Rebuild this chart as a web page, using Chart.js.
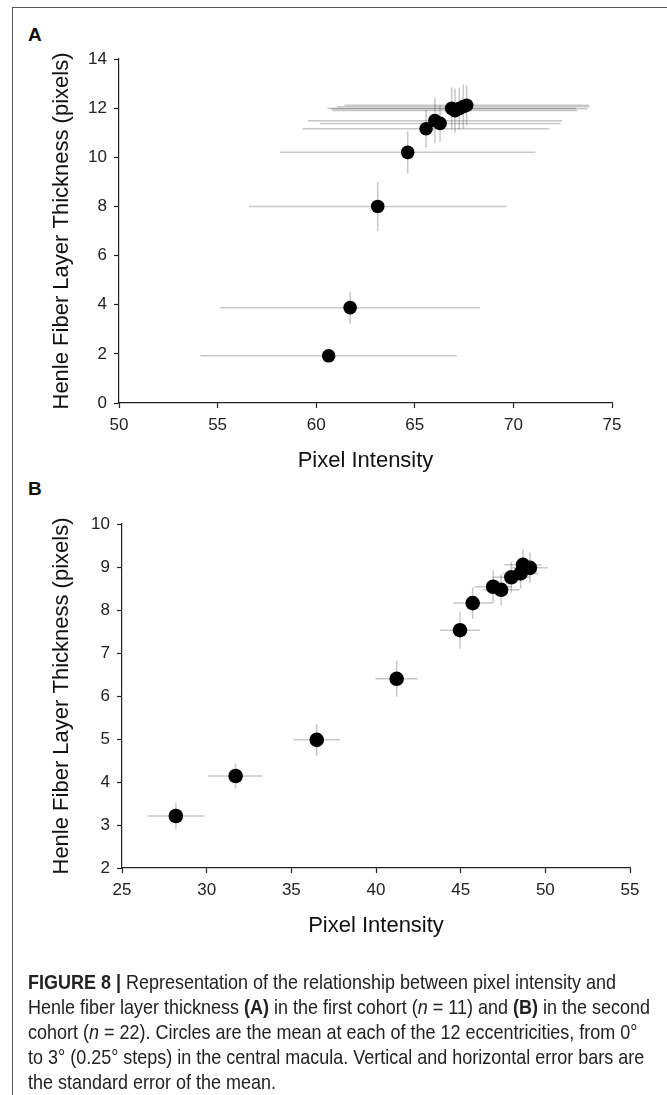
<!DOCTYPE html>
<html>
<head>
<meta charset="utf-8">
<title>Figure 8</title>
<script src="https://cdn.jsdelivr.net/npm/chart.js@4.4.0/dist/chart.umd.min.js"></script>
<style>
  html, body { margin: 0; padding: 0; background: #fff; }
  #page { position: relative; width: 667px; height: 1095px; overflow: hidden;
          font-family: "Liberation Sans", Arial, sans-serif; color: #222; }
  .frame-top { position: absolute; left: 12px; top: 7px; right: 0; border-top: 1.5px solid #555; }
  .frame-left { position: absolute; left: 12px; top: 7px; bottom: 0; border-left: 1.5px solid #555; }
  .panel { position: absolute; left: 28px; font-weight: bold; font-size: 19px; line-height: 22px; color: #111; }
  canvas { position: absolute; left: 0; }
  #caption { position: absolute; left: 28px; top: 969px; font-size: 21px; line-height: 25px;
             font-family: "Liberation Sans Narrow", "Liberation Sans", Arial, sans-serif; color: #222; }
  #caption div { white-space: nowrap; transform-origin: 0 50%; }
</style>
</head>
<body>
<div id="page">
  <div class="frame-top"></div>
  <div class="frame-left"></div>
  <div class="panel" style="top:24px">A</div>
  <div class="panel" style="top:478px">B</div>
  <canvas id="chartA" width="667" height="495" style="top:0"></canvas>
  <canvas id="chartB" width="667" height="495" style="top:495px"></canvas>
  <div id="caption">
    <div><b>FIGURE 8 |</b> Representation of the relationship between pixel intensity and</div>
    <div>Henle fiber layer thickness <b>(A)</b> in the first cohort (<i>n</i> = 11) and <b>(B)</b> in the second</div>
    <div>cohort (<i>n</i> = 22). Circles are the mean at each of the 12 eccentricities, from 0°</div>
    <div>to 3° (0.25° steps) in the central macula. Vertical and horizontal error bars are</div>
    <div>the standard error of the mean.</div>
  </div>
</div>
<script>
// First cohort (n = 11): mean pixel intensity / HFL thickness per eccentricity, with SEM
const intensityA = [60.63, 61.72, 63.12, 64.64, 65.57, 66.02, 66.28, 66.87, 67.04, 67.25, 67.46, 67.63];
const thicknessA = [1.92, 3.88, 8.0, 10.2, 11.16, 11.49, 11.38, 11.99, 11.9, 11.98, 12.06, 12.12];
const intensitySemA = [6.5, 6.58, 6.53, 6.47, 6.25, 6.45, 6.1, 6.3, 6.2, 6.5, 6.4, 6.2];
const thicknessSemA = [0.2, 0.66, 1.0, 0.86, 0.75, 0.92, 0.75, 0.85, 0.9, 0.85, 0.9, 0.8];

// Second cohort (n = 22)
const intensityB = [28.18, 31.71, 36.5, 41.22, 44.96, 45.71, 46.92, 47.39, 47.99, 48.54, 48.68, 49.09];
const thicknessB = [3.21, 4.14, 4.98, 6.4, 7.53, 8.16, 8.54, 8.47, 8.76, 8.85, 9.05, 8.98];
const intensitySemB = [1.68, 1.6, 1.38, 1.25, 1.17, 1.16, 1.1, 1.1, 1.1, 1.05, 1.1, 1.05];
const thicknessSemB = [0.31, 0.29, 0.37, 0.42, 0.43, 0.37, 0.38, 0.36, 0.36, 0.35, 0.36, 0.35];

// Axis ranges: [min, max, step]
const xTicksA = [50, 75, 5];
const yTicksA = [0, 14, 2];
const xTicksB = [25, 55, 5];
const yTicksB = [2, 10, 1];

Chart.defaults.font.family = "'Liberation Sans', Arial, sans-serif";

function toPoints(xs, ys, xe, ye) {
    return xs.map((x, i) => ({ x: x, y: ys[i], xErr: xe[i], yErr: ye[i] }));
}

// Draws the horizontal and vertical SEM bars under the markers
const errorBars = {
    id: 'errorBars',
    beforeDatasetsDraw(chart) {
        const { ctx } = chart;
        const x = chart.scales.x, y = chart.scales.y;
        ctx.save();
        ctx.strokeStyle = 'rgba(0, 0, 0, 0.22)';
        ctx.lineWidth = 1.5;
        chart.data.datasets[0].data.forEach(p => {
            const px = x.getPixelForValue(p.x);
            const py = y.getPixelForValue(p.y);
            ctx.beginPath();
            ctx.moveTo(x.getPixelForValue(p.x - p.xErr), py);
            ctx.lineTo(x.getPixelForValue(p.x + p.xErr), py);
            ctx.stroke();
            ctx.beginPath();
            ctx.moveTo(px, y.getPixelForValue(p.y - p.yErr));
            ctx.lineTo(px, y.getPixelForValue(p.y + p.yErr));
            ctx.stroke();
        });
        ctx.restore();
    }
};

function axis(range, title, size) {
    return {
        type: 'linear',
        min: range[0],
        max: range[1],
        ticks: { stepSize: range[2], color: '#222', font: { size: 17 }, padding: 7 },
        grid: { drawOnChartArea: false, drawTicks: true, tickLength: 5, tickColor: '#222', tickWidth: 1.2 },
        border: { display: true, color: '#222', width: 1.2 },
        title: { display: true, text: title, color: '#111', font: { size: 22 }, padding: { top: 4, bottom: 4 } },
        afterFit(scale) {
            if (scale.isHorizontal()) scale.height = size;
            else scale.width = size;
        }
    };
}

function makeChart(id, points, xr, yr, yAxisWidth, padding, radius) {
    return new Chart(document.getElementById(id).getContext('2d'), {
        type: 'scatter',
        data: {
            datasets: [{
                data: points,
                backgroundColor: '#000',
                borderWidth: 0,
                pointRadius: radius,
                pointHoverRadius: radius
            }]
        },
        options: {
            responsive: false,
            animation: false,
            layout: { padding: padding },
            plugins: { legend: { display: false }, tooltip: { enabled: false } },
            scales: {
                x: axis(xr, 'Pixel Intensity', 75),
                y: axis(yr, 'Henle Fiber Layer Thickness (pixels)', yAxisWidth)
            }
        },
        plugins: [errorBars]
    });
}

makeChart('chartA', toPoints(intensityA, thicknessA, intensitySemA, thicknessSemA),
    xTicksA, yTicksA, 74, { left: 45, top: 59, right: 55, bottom: 17 }, 6.8);
makeChart('chartB', toPoints(intensityB, thicknessB, intensitySemB, thicknessSemB),
    xTicksB, yTicksB, 77, { left: 45, top: 29, right: 37, bottom: 47 }, 7.3);

// Caption is set in a condensed face: squeeze lines so the second one spans the column
const lines = document.querySelectorAll('#caption div');
const natural = lines[1].getBoundingClientRect().width;
const squeeze = Math.min(1, 622 / natural);
lines.forEach(l => { l.style.transform = 'scaleX(' + squeeze + ')'; });
</script>
</body>
</html>
